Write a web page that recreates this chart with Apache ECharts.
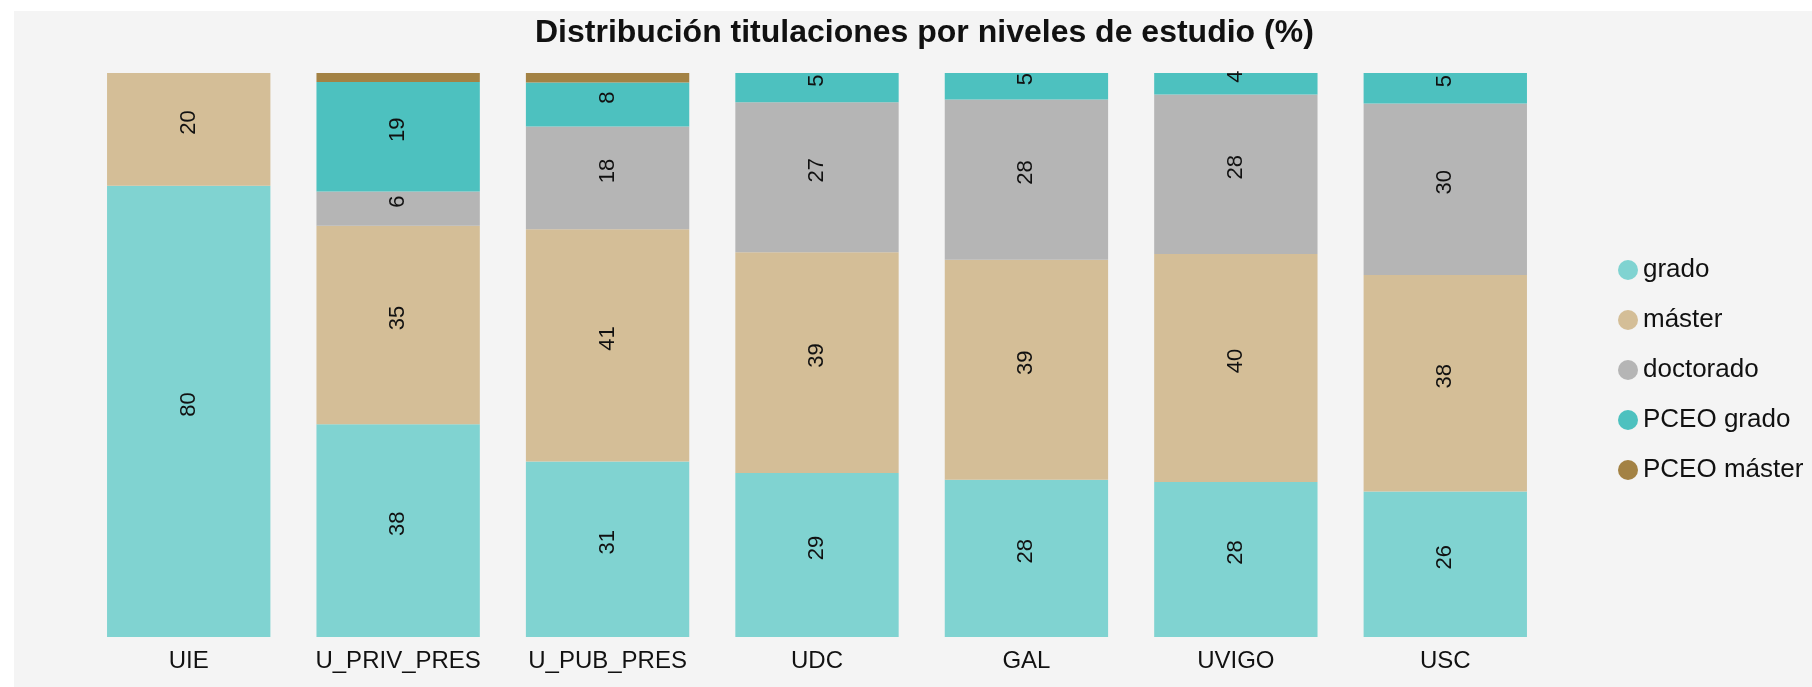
<!DOCTYPE html>
<html>
<head>
<meta charset="utf-8">
<script src="https://cdn.jsdelivr.net/npm/echarts@6/dist/echarts.min.js"></script>
<style>
html,body{margin:0;padding:0;background:#ffffff;}
#chart{position:absolute;left:14px;top:11px;width:1798px;height:676px;background:#f4f4f4;}
</style>
</head>
<body>
<div id="chart"></div>
<script>
const categories = ['UIE', 'U_PRIV_PRES', 'U_PUB_PRES', 'UDC', 'GAL', 'UVIGO', 'USC'];
const grado      = [80.0, 37.7, 31.1, 29.1, 27.9, 27.5, 25.8];
const master     = [20.0, 35.2, 41.2, 39.1, 39.0, 40.4, 38.4];
const doctorado  = [0,    6.1,  18.2, 26.6, 28.4, 28.3, 30.4];
const pceoGrado  = [0,    19.4, 7.8,  5.2,  4.7,  3.8,  5.4];
const pceoMaster = [0,    1.6,  1.7,  0,    0,    0,    0];

const seriesNames = ['grado', 'máster', 'doctorado', 'PCEO grado', 'PCEO máster'];
const seriesData = [grado, master, doctorado, pceoGrado, pceoMaster];
const colors = ['#80d3d1', '#d4be97', '#b5b5b5', '#4dc1bf', '#a38244'];

const FONT = "'Liberation Sans', Arial, sans-serif";

const chart = echarts.init(document.getElementById('chart'), null, {renderer: 'canvas'});
chart.setOption({
  backgroundColor: '#f4f4f4',
  animation: false,
  title: {
    text: 'Distribución titulaciones por niveles de estudio (%)',
    left: 521,
    top: 6,
    padding: 0,
    textStyle: {fontFamily: FONT, fontSize: 32, fontWeight: 'bold', color: '#111111'}
  },
  legend: {
    orient: 'vertical',
    left: 1604,
    top: 246,
    padding: 0,
    icon: 'circle',
    itemWidth: 20,
    itemHeight: 20,
    itemGap: 24,
    data: seriesNames,
    textStyle: {fontFamily: FONT, fontSize: 26, color: '#111111'}
  },
  grid: {left: 70, right: 262, top: 62, bottom: 50, containLabel: false},
  xAxis: {
    type: 'category',
    data: categories,
    axisLine: {show: false},
    axisTick: {show: false},
    axisLabel: {interval: 0, fontFamily: FONT, fontSize: 24, color: '#111111', margin: 12}
  },
  yAxis: {
    type: 'value',
    min: 0,
    max: 100,
    show: false,
    splitLine: {show: false}
  },
  series: seriesNames.map((name, i) => ({
    name: name,
    type: 'bar',
    stack: 'total',
    barCategoryGap: '22%',
    itemStyle: {color: colors[i]},
    label: {
      show: true,
      position: 'inside',
      rotate: 90,
      offset: [7, 0],
      fontFamily: FONT,
      fontSize: 22,
      color: '#111111',
      formatter: p => (p.value >= 2 ? String(Math.round(p.value)) : '')
    },
    data: seriesData[i]
  }))
});
</script>
</body>
</html>
